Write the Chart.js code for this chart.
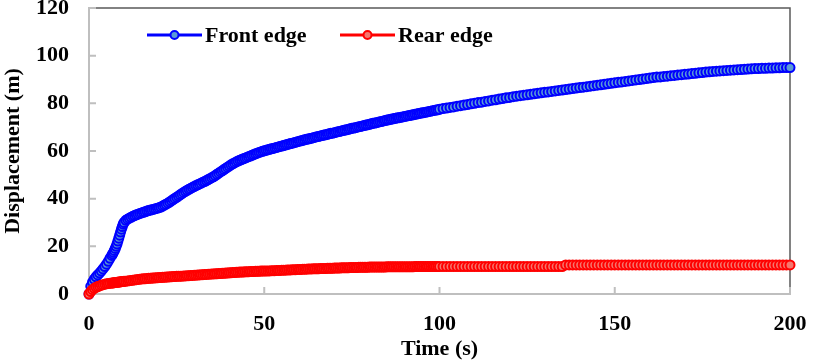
<!DOCTYPE html>
<html>
<head>
<meta charset="utf-8">
<script src="https://cdn.jsdelivr.net/npm/chart.js@4"></script>
<style>
  html, body { margin: 0; padding: 0; background: #fff; }
  #wrap { width: 813px; height: 363px; position: relative; }
</style>
</head>
<body>
<div id="wrap"><canvas id="c" width="813" height="363"></canvas></div>
<script>
// ---- data (time in s) ----
const times = [
  0,0.5,1,1.5,2,2.5,3,3.5,4,4.5,5,5.5,6,6.5,6.75,7,7.25,7.5,7.75,8,8.25,8.5,8.75,9,9.25,9.5,9.75,
  10,10.5,11,11.5,12,12.5,13,13.5,14,14.5,15,15.5,16,16.5,17,17.5,18,18.5,19,19.5,
  20,20.5,21,21.5,22,22.5,23,23.5,24,24.5,25,25.5,26,26.5,27,27.5,28,28.5,29,29.5,
  30,30.5,31,31.5,32,32.5,33,33.5,34,34.5,35,35.5,36,36.5,37,37.5,38,38.5,39,39.5,
  40,40.5,41,41.5,42,42.5,43,43.5,44,44.5,45,45.5,46,46.5,47,47.5,48,48.5,49,49.5,
  50,50.5,51,51.5,52,52.5,53,53.5,54,54.5,55,55.5,56,56.5,57,57.5,58,58.5,59,59.5,
  60,60.5,61,61.5,62,62.5,63,63.5,64,64.5,65,65.5,66,66.5,67,67.5,68,68.5,69,69.5,
  70,70.5,71,71.5,72,72.5,73,73.5,74,74.5,75,75.5,76,76.5,77,77.5,78,78.5,79,79.5,
  80,80.5,81,81.5,82,82.5,83,83.5,84,84.5,85,85.5,86,86.5,87,87.5,88,88.5,89,89.5,
  90,90.5,91,91.5,92,92.5,93,93.5,94,94.5,95,95.5,96,96.5,97,97.5,98,98.5,99,99.5,
  100,
  101,102,103,104,105,106,107,108,109,110,
  111,112,113,114,115,116,117,118,119,120,
  121,122,123,124,125,126,127,128,129,130,
  131,132,133,134,135,136,137,138,139,140,
  141,142,143,144,145,146,147,148,149,150,
  151,152,153,154,155,156,157,158,159,160,
  161,162,163,164,165,166,167,168,169,170,
  171,172,173,174,175,176,177,178,179,180,
  181,182,183,184,185,186,187,188,189,190,
  191,192,193,194,195,196,197,198,199,200
];
const frontEdge = [
  0,3.2,5,6.2,7.2,8.0,8.8,9.6,10.5,11.5,12.5,13.7,15,16.2,16.8,17.5,18.3,19.1,20.0,21,22.2,23.4,24.7,26,27.2,28.3,29.3,
  30,30.9,31.4,31.8,32.2,32.6,32.9,33.2,33.5,33.8,34.0,34.3,34.5,34.8,35.0,35.2,35.4,35.6,35.8,36.0,
  36.2,36.5,36.9,37.3,37.7,38.1,38.6,39.1,39.6,40.1,40.6,41.1,41.6,42.1,42.6,43.1,43.5,43.9,44.3,44.7,
  45.1,45.5,45.8,46.2,46.5,46.9,47.2,47.6,48.0,48.4,48.8,49.2,49.7,50.2,50.7,51.2,51.7,52.2,52.7,53.2,
  53.7,54.2,54.6,55.0,55.4,55.8,56.1,56.4,56.7,57.0,57.3,57.6,57.9,58.2,58.5,58.8,59.1,59.4,59.6,59.9,
  60.1,60.3,60.5,60.7,60.9,61.1,61.3,61.5,61.7,61.9,62.1,62.3,62.5,62.7,62.9,63.1,63.3,63.5,63.7,63.9,
  64.1,64.3,64.5,64.7,64.9,65.0,65.2,65.4,65.6,65.8,66.0,66.1,66.3,66.5,66.7,66.8,67.0,67.2,67.4,67.5,
  67.7,67.9,68.1,68.2,68.4,68.6,68.8,68.9,69.1,69.3,69.5,69.6,69.8,70.0,70.2,70.3,70.5,70.7,70.9,71.0,
  71.2,71.4,71.6,71.7,71.9,72.1,72.3,72.4,72.6,72.8,73.0,73.1,73.3,73.4,73.6,73.7,73.9,74.0,74.2,74.3,
  74.5,74.6,74.8,74.9,75.1,75.2,75.4,75.5,75.7,75.8,76.0,76.1,76.3,76.4,76.6,76.7,76.9,77.0,77.2,77.3,
  77.5,
  77.8,78.0,78.3,78.5,78.8,79.0,79.3,79.5,79.8,80.0,
  80.3,80.5,80.8,81.0,81.3,81.5,81.8,82.0,82.3,82.5,
  82.8,83.0,83.2,83.4,83.6,83.8,84.0,84.2,84.4,84.6,
  84.8,85.0,85.2,85.4,85.6,85.8,86.0,86.2,86.4,86.6,
  86.8,87.0,87.2,87.4,87.6,87.8,88.0,88.2,88.4,88.6,
  88.8,89.0,89.2,89.4,89.6,89.8,90.0,90.2,90.4,90.6,
  90.8,91.0,91.1,91.3,91.4,91.6,91.7,91.9,92.0,92.2,
  92.3,92.5,92.6,92.8,92.9,93.1,93.2,93.4,93.5,93.6,
  93.7,93.8,93.9,94.0,94.1,94.2,94.3,94.4,94.5,94.6,
  94.6,94.7,94.7,94.8,94.8,94.9,94.9,95.0,95.0,95.0
];
const rearEdge = [
  0,1.0,1.8,2.4,2.8,3.1,3.4,3.7,3.9,4.1,4.3,4.4,4.5,4.6,4.65,4.7,4.75,4.8,4.85,4.9,4.95,5.0,5.05,5.1,5.15,5.2,5.25,
  5.3,5.4,5.5,5.6,5.7,5.8,5.9,6.0,6.1,6.2,6.3,6.4,6.4,6.5,6.6,6.6,6.7,6.7,6.8,6.8,
  6.9,6.9,7.0,7.0,7.1,7.1,7.2,7.2,7.3,7.3,7.4,7.4,7.5,7.5,7.6,7.6,7.7,7.7,7.8,7.8,
  7.9,7.9,8.0,8.0,8.1,8.1,8.2,8.2,8.3,8.3,8.4,8.4,8.5,8.5,8.6,8.6,8.7,8.7,8.8,8.8,
  8.9,8.9,9.0,9.0,9.1,9.1,9.2,9.2,9.2,9.3,9.3,9.3,9.4,9.4,9.4,9.5,9.5,9.5,9.6,9.6,
  9.6,9.7,9.7,9.7,9.8,9.8,9.8,9.9,9.9,9.9,10.0,10.0,10.0,10.1,10.1,10.1,10.2,10.2,10.2,10.3,
  10.3,10.3,10.4,10.4,10.4,10.5,10.5,10.5,10.6,10.6,10.6,10.6,10.7,10.7,10.7,10.7,10.8,10.8,10.8,10.8,
  10.9,10.9,10.9,10.9,11.0,11.0,11.0,11.0,11.0,11.1,11.1,11.1,11.1,11.1,11.2,11.2,11.2,11.2,11.2,11.2,
  11.3,11.3,11.3,11.3,11.3,11.3,11.3,11.3,11.3,11.3,11.4,11.4,11.4,11.4,11.4,11.4,11.4,11.4,11.4,11.4,
  11.4,11.4,11.4,11.4,11.4,11.4,11.5,11.5,11.5,11.5,11.5,11.5,11.5,11.5,11.5,11.5,11.5,11.5,11.5,11.5,
  11.5,
  11.5,11.5,11.5,11.5,11.5,11.5,11.5,11.5,11.5,11.5,
  11.5,11.5,11.5,11.5,11.5,11.5,11.5,11.5,11.5,11.5,
  11.5,11.5,11.5,11.5,11.5,11.5,11.5,11.5,11.5,11.5,
  11.5,11.5,11.5,11.5,11.5,12.2,12.2,12.2,12.2,12.2,
  12.2,12.2,12.2,12.2,12.2,12.2,12.2,12.2,12.2,12.2,
  12.2,12.2,12.2,12.2,12.2,12.2,12.2,12.2,12.2,12.2,
  12.2,12.2,12.2,12.2,12.2,12.2,12.2,12.2,12.2,12.2,
  12.2,12.2,12.2,12.2,12.2,12.2,12.2,12.2,12.2,12.2,
  12.2,12.2,12.2,12.2,12.2,12.2,12.2,12.2,12.2,12.2,
  12.2,12.2,12.2,12.2,12.2,12.2,12.2,12.2,12.2,12.2
];
const seriesNames = ['Front edge', 'Rear edge'];
const xTicks = [0, 50, 100, 150, 200];
const yTicks = [0, 20, 40, 60, 80, 100, 120];

// ---- styles ----
const FONT = '"Liberation Serif", "Times New Roman", serif';
const styles = [
  { line: '#0000ff', fill: '#5b9bd5' },
  { line: '#ff0000', fill: '#f4776e' }
];
const AXIS_GREY = '#bfbfbf';

function toPoints(xs, ys) { return xs.map((x, i) => ({ x: x, y: ys[i] })); }

const frameAndTicks = {
  id: 'frameAndTicks',
  beforeDatasetsDraw(chart) {
    const { ctx, chartArea: a, scales } = chart;
    ctx.save();
    ctx.strokeStyle = '#595959';
    ctx.lineWidth = 1.5;
    ctx.beginPath();
    ctx.moveTo(a.left, a.top); ctx.lineTo(a.right, a.top); ctx.lineTo(a.right, a.bottom);
    ctx.stroke();
    ctx.strokeStyle = AXIS_GREY;
    ctx.lineWidth = 2;
    ctx.beginPath();
    yTicks.forEach(v => {
      if (v === 0) return;
      const y = scales.y.getPixelForValue(v);
      ctx.moveTo(a.left, y); ctx.lineTo(a.left + 7, y);
    });
    xTicks.forEach(v => {
      if (v === 0) return;
      const x = scales.x.getPixelForValue(v);
      ctx.moveTo(x, a.bottom); ctx.lineTo(x, a.bottom - 7);
    });
    ctx.stroke();
    ctx.restore();
  },
  afterDraw(chart) {
    const { ctx } = chart;
    ctx.save();
    const items = [
      { x0: 147, x1: 202, tx: 205 },
      { x0: 340, x1: 395, tx: 398 }
    ];
    const ly = 35;
    chart.data.datasets.forEach((ds, i) => {
      const it = items[i];
      ctx.strokeStyle = ds.borderColor;
      ctx.lineWidth = 3;
      ctx.beginPath(); ctx.moveTo(it.x0, ly); ctx.lineTo(it.x1, ly); ctx.stroke();
      ctx.beginPath();
      ctx.arc((it.x0 + it.x1) / 2, ly, 4, 0, Math.PI * 2);
      ctx.fillStyle = ds.pointBackgroundColor; ctx.fill();
      ctx.lineWidth = 2; ctx.strokeStyle = ds.pointBorderColor; ctx.stroke();
      ctx.fillStyle = '#000';
      ctx.font = 'bold 22px ' + FONT;
      ctx.textBaseline = 'middle';
      ctx.textAlign = 'left';
      ctx.fillText(ds.label, it.tx, ly + 1);
    });
    ctx.restore();
  }
};

const datasets = [frontEdge, rearEdge].map((vals, i) => ({
  label: seriesNames[i],
  data: toPoints(times, vals),
  borderColor: styles[i].line,
  backgroundColor: styles[i].fill,
  pointBackgroundColor: styles[i].fill,
  pointBorderColor: styles[i].line,
  pointRadius: 4.5,
  pointBorderWidth: 2,
  borderWidth: 4,
  tension: 0,
  clip: false,
  order: i === 0 ? 2 : 1
}));

new Chart(document.getElementById('c'), {
  type: 'line',
  data: { datasets },
  options: {
    responsive: false,
    animation: false,
    devicePixelRatio: 1,
    layout: { padding: { left: 0, right: 23, top: 8, bottom: 0 } },
    plugins: { legend: { display: false }, tooltip: { enabled: false } },
    scales: {
      x: {
        type: 'linear', min: 0, max: 200,
        afterFit: s => { s.height = 69; s.paddingLeft = 0; s.paddingRight = 0; },
        afterBuildTicks: s => { s.ticks = xTicks.map(v => ({ value: v })); },
        grid: { display: true, drawOnChartArea: false, drawTicks: false },
        border: { display: true, color: AXIS_GREY, width: 2 },
        ticks: { padding: 17, color: '#000', font: { family: FONT, size: 22, weight: 'bold' }, maxRotation: 0 },
        title: { display: true, text: 'Time (s)', color: '#000', padding: 0,
                 font: { family: FONT, size: 22, weight: 'bold' } }
      },
      y: {
        min: 0, max: 120,
        afterFit: s => { s.width = 89; s.paddingTop = 0; s.paddingBottom = 0; },
        afterBuildTicks: s => { s.ticks = yTicks.map(v => ({ value: v })); },
        grid: { display: true, drawOnChartArea: false, drawTicks: false },
        border: { display: true, color: AXIS_GREY, width: 2 },
        ticks: { padding: 20, color: '#000', font: { family: FONT, size: 22, weight: 'bold' } },
        title: { display: true, text: 'Displacement (m)', color: '#000', padding: 0,
                 font: { family: FONT, size: 22, weight: 'bold' } }
      }
    }
  },
  plugins: [frameAndTicks]
});
</script>
</body>
</html>
